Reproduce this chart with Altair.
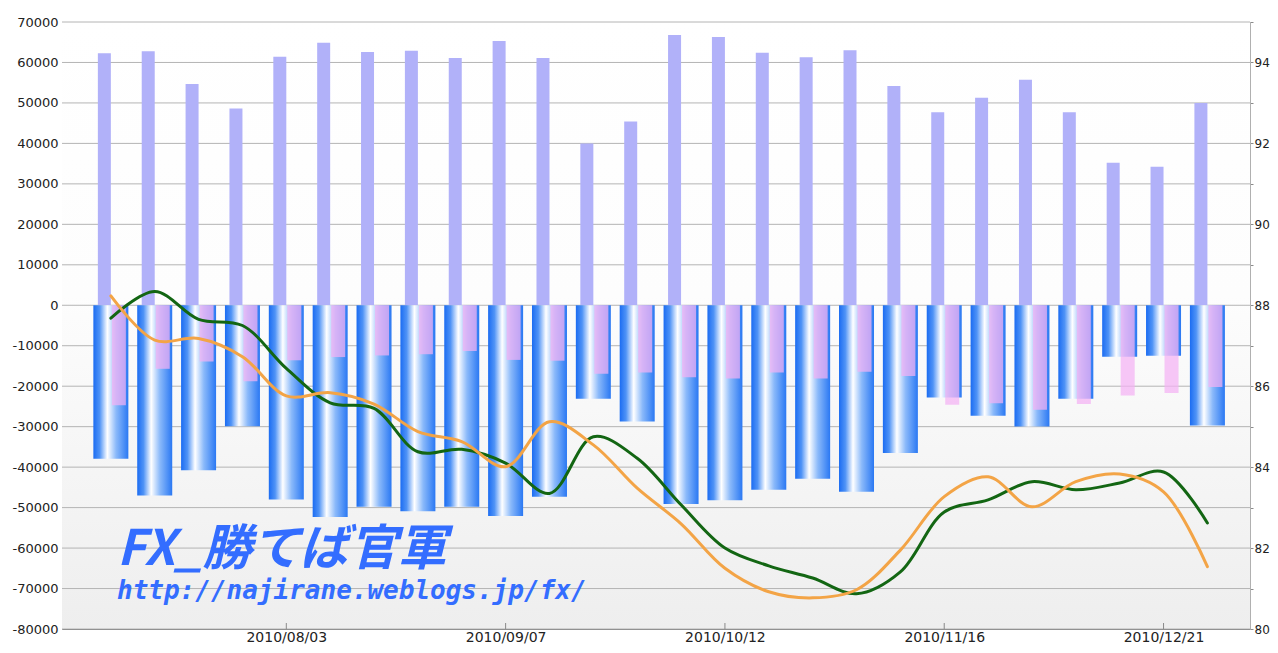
import altair as alt
import pandas as pd

# ---------------- data ----------------
weeks = ["2010-07-06", "2010-07-13", "2010-07-20", "2010-07-27", "2010-08-03",
         "2010-08-10", "2010-08-17", "2010-08-24", "2010-08-31", "2010-09-07",
         "2010-09-14", "2010-09-21", "2010-09-28", "2010-10-05", "2010-10-12",
         "2010-10-19", "2010-10-26", "2010-11-02", "2010-11-09", "2010-11-16",
         "2010-11-23", "2010-11-30", "2010-12-07", "2010-12-14", "2010-12-21",
         "2010-12-28"]

long_pos = [62300, 62800, 54700, 48600, 61400, 64900, 62600, 62900, 61100, 65300,
            61100, 40000, 45400, 66800, 66300, 62400, 61300, 63000, 54200, 47700,
            51300, 55700, 47700, 35200, 34200, 50000]

short_pos = [-37900, -47000, -40800, -29900, -48000, -52300, -49800, -50900, -49800, -52100,
             -47300, -23100, -28700, -49100, -48200, -45600, -42900, -46100, -36500, -22800,
             -27300, -29950, -23100, -12700, -12500, -29700]

net_pos = [-24700, -15700, -13900, -18800, -13600, -12800, -12400, -12100, -11300, -13500,
           -13700, -16900, -16600, -17800, -18100, -16600, -18100, -16400, -17500, -24600,
           -24200, -25800, -24400, -22300, -21700, -20200]

green_line = [87.68, 88.34, 87.65, 87.50, 86.44, 85.59, 85.45, 84.38, 84.44, 84.10,
              83.35, 84.75, 84.22, 83.07, 82.00, 81.56, 81.26, 80.87, 81.41, 82.89,
              83.19, 83.64, 83.44, 83.61, 83.88, 82.62]

orange_line = [88.23, 87.14, 87.18, 86.73, 85.76, 85.84, 85.56, 84.88, 84.63, 84.01,
               85.12, 84.55, 83.48, 82.60, 81.50, 80.92, 80.77, 80.97, 81.95, 83.27,
               83.76, 83.02, 83.64, 83.83, 83.39, 81.54]

x_tick_dates = ["2010-08-03", "2010-09-07", "2010-10-12", "2010-11-16", "2010-12-21"]
left_ticks = list(range(-80000, 70001, 10000))
right_ticks = list(range(80, 96))

title_text = "FX_勝てば官軍"
url_text = "http://najirane.weblogs.jp/fx/"

df = pd.DataFrame({"date": weeks, "long": long_pos, "short": short_pos, "net": net_pos,
                   "green": green_line, "orange": orange_line})
grid_df = pd.DataFrame({"v": left_ticks})
tick_df = pd.DataFrame({"date": x_tick_dates})

W, H = 1188, 607
FONT = "DejaVu Sans"

def dt(s):
    y, m, d = (int(p) for p in s.split("-"))
    return alt.DateTime(year=y, month=m, date=d, utc=True)

x_scale = alt.Scale(type="utc", domain=[dt("2010-06-29"), dt("2011-01-03")])
x_axis = alt.Axis(values=[dt(s) for s in x_tick_dates], format="%Y/%m/%d", title=None,
                  grid=False, ticks=False, domainColor="#6e6e6e", labelPadding=1,
                  labelFontSize=14, labelFont=FONT, labelColor="#222", labelFlush=False)

def X():
    return alt.X("date:T", scale=x_scale, axis=x_axis)

def YL(field, axis=None):
    return alt.Y(field, scale=alt.Scale(domain=[-80000, 70000], nice=False, zero=False),
                 axis=axis)

def YR(field, axis=None):
    return alt.Y(field, scale=alt.Scale(domain=[80, 95], nice=False, zero=False), axis=axis)

one = alt.Data(values=[{"a": 1}])

bg_grad = alt.LinearGradient(gradient="linear", x1=0, x2=0, y1=0, y2=1,
                             stops=[alt.GradientStop(offset=0, color="#ffffff"),
                                    alt.GradientStop(offset=0.45, color="#fdfdfd"),
                                    alt.GradientStop(offset=1, color="#eeeeee")])
blue_grad = alt.LinearGradient(gradient="linear", x1=0, x2=1, y1=0, y2=0,
                               stops=[alt.GradientStop(offset=0, color="#1b6cf2"),
                                      alt.GradientStop(offset=0.18, color="#4f93f6"),
                                      alt.GradientStop(offset=0.40, color="#ffffff"),
                                      alt.GradientStop(offset=0.65, color="#8ab9fa"),
                                      alt.GradientStop(offset=1, color="#2a78f3")])

left_axis = alt.Axis(orient="left", values=left_ticks, title=None, grid=False,
                     ticks=False, domainColor="#8a8a8a", labelPadding=4, labelFontSize=13,
                     labelFont=FONT, labelColor="#222", labelFlush=False, labelOverlap=False,
                     labelExpr="(datum.value < 0 ? '-' : '') + abs(datum.value)")
right_axis = alt.Axis(orient="right", values=right_ticks, format="d", title=None, grid=False,
                      tickSize=3, tickColor="#8a8a8a", domainColor="#b0b0b0",
                      labelPadding=1, labelFontSize=12, labelFont=FONT,
                      labelColor="#222", labelFlush=False, labelOverlap=False,
                      labelExpr="datum.value % 2 == 0 ? datum.label : ''")

background = alt.Chart(one).mark_rect(color=bg_grad).encode(
    x=alt.value(0), x2=alt.value(W), y=alt.value(0), y2=alt.value(H))

grid = alt.Chart(grid_df).mark_rule(color="#b4b4b4", strokeWidth=1).encode(
    y=YL("v:Q", left_axis))

long_bars = alt.Chart(df).mark_bar(color="#b1b1f9", size=13, xOffset=-6.5).encode(
    x=X(), y=YL("long:Q"), y2=alt.datum(0))

short_bars = alt.Chart(df).mark_bar(color=blue_grad, size=35).encode(
    x=X(), y=YL("short:Q"), y2=alt.datum(0))

net_bars = alt.Chart(df).mark_bar(color="#f4b2f4", opacity=0.72, size=14, xOffset=8).encode(
    x=X(), y=YL("net:Q"), y2=alt.datum(0))

x_ticks = alt.Chart(tick_df).mark_rule(color="#8a8a8a").encode(
    x=X(), y=alt.value(H - 6), y2=alt.value(H))

green = alt.Chart(df).mark_line(color="#136613", strokeWidth=3, interpolate="catmull-rom",
                                strokeCap="round").encode(
    x=X(), y=YR("green:Q", right_axis))

orange = alt.Chart(df).mark_line(color="#f3a446", strokeWidth=3, interpolate="catmull-rom",
                                 strokeCap="round").encode(
    x=X(), y=YR("orange:Q"))

title_mark = alt.Chart(one).mark_text(
    text=title_text, font="Noto Sans CJK JP", fontSize=49, fontWeight="bold",
    fontStyle="italic", color="#336dff", align="left", baseline="alphabetic").encode(
    x=alt.value(55), y=alt.value(543))

url_mark = alt.Chart(one).mark_text(
    text=url_text, font="DejaVu Sans Mono", fontSize=26, fontWeight="bold",
    fontStyle="italic", color="#336dff", align="left", baseline="alphabetic").encode(
    x=alt.value(55), y=alt.value(577))

chart = alt.layer(
    background, grid, long_bars, short_bars, net_bars, x_ticks, green, orange,
    title_mark, url_mark
).resolve_scale(y="independent").properties(
    width=W, height=H,
    padding={"left": 54, "top": 14, "right": 20, "bottom": 15},
    autosize=alt.AutoSizeParams(type="none"),
).configure_view(stroke="#c8c8c8", strokeWidth=1)

chart.save("out.html", embed_options={"renderer": "svg", "actions": False})
